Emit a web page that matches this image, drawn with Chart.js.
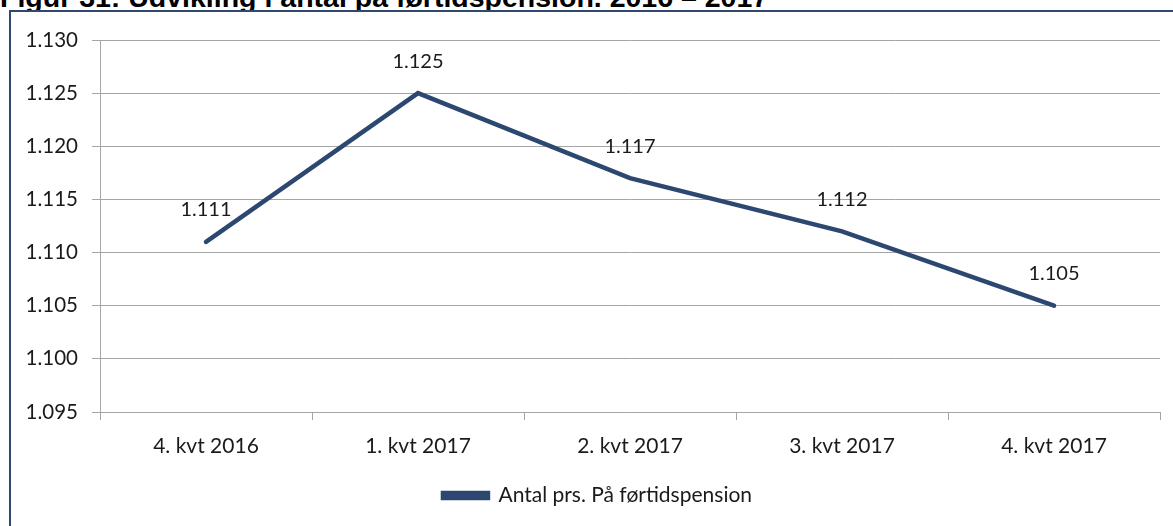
<!DOCTYPE html>
<html>
<head>
<meta charset="utf-8">
<script src="https://cdn.jsdelivr.net/npm/chart.js@4.4.1/dist/chart.umd.min.js"></script>
<style>
  html, body { margin: 0; padding: 0; background: #fff; width: 1173px; height: 526px; overflow: hidden; position: relative; }
  #title { position: absolute; left: 0; top: -19px; font-family: "Liberation Sans", Arial, sans-serif; font-weight: bold; font-size: 28.5px; color: #000; white-space: nowrap; line-height: 32px; }
  #frame { position: absolute; left: 9px; top: 10px; width: 1180px; height: 540px; border-left: 2px solid #2d4a6e; border-top: 2px solid #2d4a6e; box-sizing: border-box; background: #fff; }
  #wrap { position: absolute; left: 11px; top: 12px; width: 1162px; height: 514px; }
</style>
</head>
<body>
<div id="title">Figur 31: Udvikling i antal på førtidspension. 2016 – 2017</div>
<div id="frame"></div>
<div id="wrap"><canvas id="c"></canvas></div>
<script>
const categories = ["4. kvt 2016", "1. kvt 2017", "2. kvt 2017", "3. kvt 2017", "4. kvt 2017"];
const seriesLabel = "Antal prs. På førtidspension";
const seriesValues = [1111, 1125, 1117, 1112, 1105];
const yMin = 1095, yMax = 1130, yStep = 5;

function fmt(v) {
  const s = String(Math.round(v));
  return s.replace(/\B(?=(\d{3})+(?!\d))/g, ".");
}

const FONT = 'Lato, "Open Sans", sans-serif';

const labelPlugin = {
  id: 'pointLabels',
  afterLayout(chart) {
    if (chart.legend) { chart.legend.left += 12; chart.legend.right += 12; }
  },
  afterDatasetsDraw(chart) {
    const ctx = chart.ctx;
    const meta = chart.getDatasetMeta(0);
    ctx.save();
    ctx.font = '20px ' + FONT;
    ctx.fillStyle = '#1a1a1a';
    ctx.textAlign = 'center';
    ctx.textBaseline = 'middle';
    meta.data.forEach((pt, i) => {
      ctx.fillText(fmt(chart.data.datasets[0].data[i]), pt.x, pt.y - 32);
    });
    ctx.restore();
  }
};

new Chart(document.getElementById('c'), {
  type: 'line',
  data: {
    labels: categories,
    datasets: [{
      label: seriesLabel,
      data: seriesValues,
      borderColor: '#2c4870',
      backgroundColor: '#2c4870',
      borderWidth: 4.5,
      pointRadius: 0,
      tension: 0,
      fill: false,
      borderCapStyle: 'round'
    }]
  },
  options: {
    responsive: true,
    maintainAspectRatio: false,
    animation: false,
    layout: { padding: { top: 28, right: 13, bottom: 10, left: 0 } },
    plugins: {
      legend: {
        position: 'bottom',
        labels: {
          boxWidth: 45,
          boxHeight: 5,
          padding: 10,
          color: '#1a1a1a',
          font: { family: FONT, size: 21 }
        }
      },
      tooltip: { enabled: false }
    },
    scales: {
      x: {
        offset: true,
        grid: { offset: true, drawOnChartArea: false, drawTicks: true, tickLength: 8, color: '#a6a6a6' },
        border: { color: '#a6a6a6', width: 1 },
        ticks: { padding: 14, color: '#1a1a1a', font: { family: FONT, size: 21 }, maxRotation: 0 },
        afterFit(scale) { scale.height = 63; }
      },
      y: {
        min: yMin, max: yMax,
        grid: { color: '#a6a6a6', tickLength: 8 },
        border: { color: '#a6a6a6', width: 1 },
        ticks: { stepSize: yStep, padding: 14, color: '#1a1a1a', font: { family: FONT, size: 20.5 }, callback: v => fmt(v) },
        afterFit(scale) { scale.width = 89; }
      }
    }
  },
  plugins: [labelPlugin]
});
</script>
</body>
</html>
